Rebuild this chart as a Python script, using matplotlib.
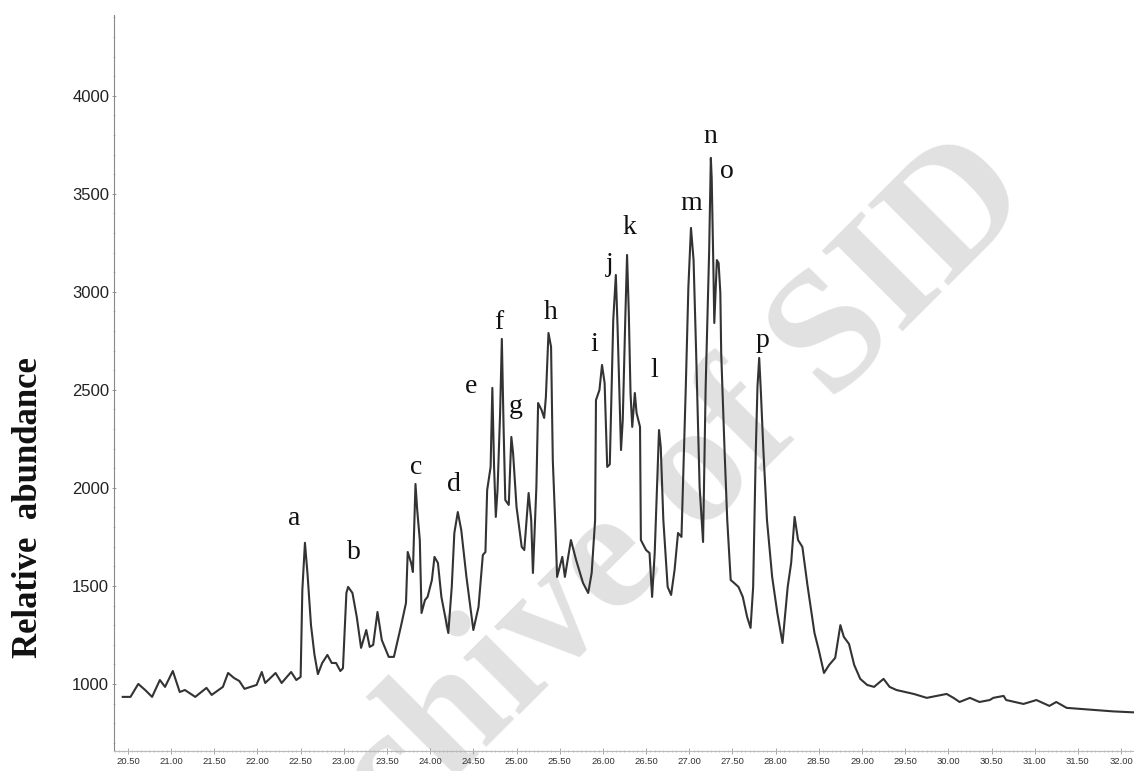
import matplotlib.pyplot as plt
from matplotlib.ticker import MultipleLocator, FormatStrFormatter

# retention time (min) and relative abundance
time_min = [20.44, 20.53, 20.62, 20.70, 20.78, 20.87, 20.93, 21.02, 21.10, 21.16,
            21.28, 21.41, 21.47, 21.60, 21.66, 21.73, 21.79, 21.85, 21.99, 22.05,
            22.09, 22.21, 22.28, 22.39, 22.45, 22.50, 22.52, 22.55, 22.58, 22.62,
            22.66, 22.70, 22.75, 22.81, 22.86, 22.91, 22.96, 22.99, 23.03, 23.05,
            23.10, 23.15, 23.20, 23.26, 23.30, 23.34, 23.39, 23.44, 23.52, 23.58,
            23.66, 23.72, 23.74, 23.78, 23.80, 23.83, 23.85, 23.88, 23.90, 23.94,
            23.97, 24.02, 24.05, 24.09, 24.13, 24.21, 24.25, 24.28, 24.32, 24.36,
            24.42, 24.50, 24.56, 24.61, 24.64, 24.66, 24.70, 24.72, 24.74, 24.76,
            24.78, 24.81, 24.83, 24.85, 24.87, 24.91, 24.94, 24.96, 25.00, 25.06,
            25.09, 25.14, 25.17, 25.19, 25.23, 25.25, 25.29, 25.32, 25.34, 25.37,
            25.40, 25.42, 25.45, 25.47, 25.53, 25.56, 25.63, 25.69, 25.77, 25.83,
            25.87, 25.91, 25.92, 25.96, 25.99, 26.02, 26.05, 26.08, 26.12, 26.15,
            26.17, 26.21, 26.23, 26.26, 26.28, 26.30, 26.32, 26.34, 26.37, 26.39,
            26.43, 26.44, 26.50, 26.54, 26.57, 26.60, 26.65, 26.67, 26.70, 26.75,
            26.79, 26.83, 26.87, 26.91, 26.96, 26.99, 27.02, 27.05, 27.08, 27.12,
            27.16, 27.19, 27.23, 27.25, 27.26, 27.28, 27.29, 27.32, 27.34, 27.36,
            27.37, 27.41, 27.44, 27.48, 27.52, 27.57, 27.62, 27.67, 27.71, 27.74,
            27.77, 27.79, 27.81, 27.83, 27.86, 27.90, 27.96, 28.02, 28.08, 28.14,
            28.18, 28.22, 28.26, 28.31, 28.37, 28.45, 28.50, 28.56, 28.62, 28.69,
            28.75, 28.79, 28.85, 28.91, 28.98, 29.06, 29.14, 29.25, 29.32, 29.40,
            29.60, 29.75, 29.98, 30.06, 30.13, 30.25, 30.36, 30.48, 30.52, 30.64,
            30.67, 30.87, 31.02, 31.17, 31.25, 31.37, 31.52, 31.91, 32.15]
abundance = [934, 934, 1000, 969, 934, 1020, 985, 1066, 959, 969,
             934, 980, 944, 985, 1056, 1030, 1015, 975, 995, 1061,
             1005, 1056, 1005, 1061, 1020, 1036, 1480, 1720, 1560, 1300,
             1150, 1050, 1107, 1148, 1107, 1107, 1066, 1080, 1464, 1495,
             1464, 1342, 1184, 1275, 1189, 1199, 1367, 1224, 1138, 1138,
             1291, 1413, 1673, 1617, 1571, 2020, 1887, 1734, 1362, 1428,
             1444, 1530, 1648, 1617, 1444, 1260, 1495, 1770, 1877, 1785,
             1546, 1275, 1393, 1658, 1673, 1989, 2107, 2510, 2107, 1852,
             1989, 2382, 2760, 2311, 1938, 1913, 2260, 2178, 1903, 1699,
             1683, 1974, 1836, 1566, 2005, 2433, 2397, 2357, 2464, 2790,
             2719, 2142, 1801, 1546, 1648, 1546, 1734, 1632, 1515, 1464,
             1566, 1836, 2448, 2499, 2627, 2535, 2107, 2120, 2856, 3086,
             2821, 2193, 2346, 2872, 3188, 2892, 2484, 2311, 2484, 2382,
             2311, 1734, 1683, 1668, 1444, 1668, 2295, 2209, 1836, 1495,
             1454, 1581, 1770, 1750, 2515, 3025, 3326, 3162, 2688, 2005,
             1724, 2515, 3198, 3683, 3581, 3111, 2841, 3162, 3147, 2994,
             2688, 2178, 1836, 1530, 1515, 1495, 1444, 1342, 1286, 1495,
             2178, 2515, 2663, 2484, 2178, 1836, 1546, 1362, 1209, 1495,
             1617, 1852, 1734, 1699, 1500, 1260, 1173, 1056, 1097, 1133,
             1300, 1240, 1204, 1097, 1026, 995, 985, 1026, 985, 969,
             949, 929, 949, 929, 908, 929, 908, 918, 929, 939,
             918, 898, 918, 888, 908, 878, 873, 860, 855]

# peak letters and where they sit
peak_names = list("abcdefghijklmnop")
peak_x = [22.43, 23.12, 23.84, 24.28, 24.47, 24.79, 24.99, 25.39,
          25.90, 26.08, 26.31, 26.60, 27.02, 27.24, 27.43, 27.85]
peak_y = [1842, 1673, 2102, 2015, 2515, 2846, 2413, 2897,
          2729, 3137, 3326, 2601, 3448, 3790, 3616, 2754]

fig = plt.figure(figsize=(11.34, 7.71), dpi=100)
ax = fig.add_axes([114/1134, 20/771, 1 - 114/1134, 736/771])

ax.plot(time_min, abundance, color="#333333", lw=1.5, zorder=3)

for name, x, y in zip(peak_names, peak_x, peak_y):
    ax.text(x, y, name, ha="center", va="center", fontsize=20,
            family="Liberation Serif", color="#111111", zorder=4)

# watermark
ax.text(615/1134, 1 - 560/771, "Archive of SID", transform=fig.transFigure,
        rotation=45, ha="center", va="center", fontsize=125, weight="bold",
        family="Liberation Serif", color="#e1e1e1", zorder=0, clip_on=False)

ax.set_xlim(20.339, 32.15)
ax.set_ylim(658, 4412)

ax.xaxis.set_major_locator(MultipleLocator(0.5))
ax.xaxis.set_minor_locator(MultipleLocator(0.05))
ax.xaxis.set_major_formatter(FormatStrFormatter("%.2f"))
ax.yaxis.set_minor_locator(MultipleLocator(100))
ax.set_yticks([1000, 1500, 2000, 2500, 3000, 3500, 4000])

ax.tick_params(axis="x", which="major", labelsize=6.8, colors="#999999",
               labelcolor="#333333", length=4, width=0.6, direction="inout", pad=2)
ax.tick_params(axis="x", which="minor", colors="#aaaaaa", length=2,
               width=0.5, direction="inout")
ax.tick_params(axis="y", which="major", labelsize=12, colors="#888888",
               labelcolor="#222222", length=3, width=0.6, direction="inout", pad=2)
ax.tick_params(axis="y", which="minor", colors="#aaaaaa", length=2, width=0.5,
               direction="inout")
for lab in ax.get_yticklabels() + ax.get_xticklabels():
    lab.set_family("Liberation Sans")

for s in ["top", "right"]:
    ax.spines[s].set_visible(False)
ax.spines["left"].set_color("#888888")
ax.spines["left"].set_linewidth(0.8)
ax.spines["bottom"].set_color("#bbbbbb")
ax.spines["bottom"].set_linewidth(0.8)

fig.text(29/1134, 1 - 508/771, "Relative  abundance", rotation=90,
         ha="center", va="center", fontsize=25, weight="bold",
         family="Liberation Serif", color="#111111")

fig.savefig("out.png", dpi=100)
